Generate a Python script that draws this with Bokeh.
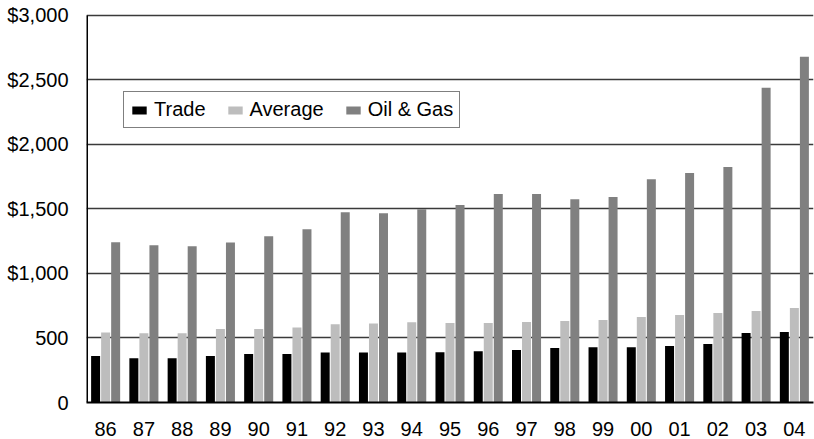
from bokeh.plotting import figure
from bokeh.models import ColumnDataSource, FixedTicker, Legend, LegendItem
from bokeh.transform import dodge
from bokeh.embed import file_html
from bokeh.resources import INLINE

# Years and average values by category
years = ["86", "87", "88", "89", "90", "91", "92", "93", "94", "95",
         "96", "97", "98", "99", "00", "01", "02", "03", "04"]
trade = [360, 342, 342, 360, 375, 375, 388, 388, 388, 390,
         398, 406, 422, 429, 429, 437, 453, 538, 546]
average = [543, 536, 536, 569, 569, 582, 606, 613, 621, 616,
           616, 623, 631, 639, 662, 678, 693, 709, 732]
oil_gas = [1242, 1219, 1211, 1240, 1289, 1343, 1475, 1467, 1498, 1530,
           1615, 1615, 1576, 1592, 1731, 1778, 1825, 2440, 2679]

y_ticks = [0, 500, 1000, 1500, 2000, 2500, 3000]
y_tick_labels = ["0", "500", "$1,000", "$1,500", "$2,000", "$2,500", "$3,000"]

source = ColumnDataSource(dict(year=years, trade=trade, average=average, oil=oil_gas))

FONT = "Liberation Sans"

p = figure(width=814, height=439, x_range=years, y_range=(0, 3100), title=None,
           output_backend="svg", toolbar_location=None,
           min_border_left=86, min_border_right=1, min_border_top=2,
           min_border_bottom=37)
p.x_range.range_padding = 0
p.outline_line_color = None
p.background_fill_color = "white"
p.border_fill_color = "white"

bar_w = 0.235
r_trade = p.vbar(x=dodge("year", -0.262, range=p.x_range), top="trade", width=bar_w,
                 source=source, fill_color="#000000", line_color=None)
r_avg = p.vbar(x=dodge("year", 0.0, range=p.x_range), top="average", width=bar_w,
               source=source, fill_color="#bdbdbd", line_color=None)
r_oil = p.vbar(x=dodge("year", 0.262, range=p.x_range), top="oil", width=bar_w,
               source=source, fill_color="#808080", line_color=None)

# Axes
p.yaxis.ticker = FixedTicker(ticks=y_ticks)
p.yaxis.major_label_overrides = dict(zip(y_ticks, y_tick_labels))
p.yaxis.major_tick_line_color = None
p.yaxis.minor_tick_line_color = None
p.yaxis.axis_line_color = None
p.yaxis.major_label_text_font = FONT
p.yaxis.major_label_text_font_size = "20px"
p.yaxis.major_label_text_color = "black"
p.yaxis.major_label_standoff = 12

p.xaxis.major_tick_line_color = None
p.xaxis.minor_tick_line_color = None
p.xaxis.axis_line_color = "black"
p.xaxis.axis_line_width = 2
p.xaxis.major_label_text_font = FONT
p.xaxis.major_label_text_font_size = "20px"
p.xaxis.major_label_text_color = "black"
p.xaxis.major_label_standoff = 13

p.xgrid.grid_line_color = None
p.ygrid.ticker = FixedTicker(ticks=y_ticks)
p.ygrid.grid_line_color = "#3a3a3a"
p.ygrid.grid_line_width = 1.4

# Left axis line running from zero up to the top tick only
axis_src = ColumnDataSource(dict(year=[years[0]], y0=[y_ticks[0]], y1=[y_ticks[-1]]))
p.segment(x0=dodge("year", -0.5, range=p.x_range), y0="y0",
          x1=dodge("year", -0.5, range=p.x_range), y1="y1",
          source=axis_src, line_color="black", line_width=3)

legend = Legend(items=[LegendItem(label="Trade", renderers=[r_trade]),
                       LegendItem(label="Average", renderers=[r_avg]),
                       LegendItem(label="Oil & Gas", renderers=[r_oil])],
                orientation="horizontal", location=(37, 274))
legend.label_text_font = FONT
legend.label_text_font_size = "20px"
legend.label_text_color = "black"
legend.label_height = 20
legend.glyph_width = 18
legend.glyph_height = 10
legend.label_standoff = 6
legend.spacing = 20
legend.padding = 6
legend.margin = 0
legend.border_line_color = "black"
legend.border_line_width = 1
legend.background_fill_color = "white"
legend.background_fill_alpha = 1
p.add_layout(legend, "center")

open("out.html", "w").write(file_html(p, INLINE))
